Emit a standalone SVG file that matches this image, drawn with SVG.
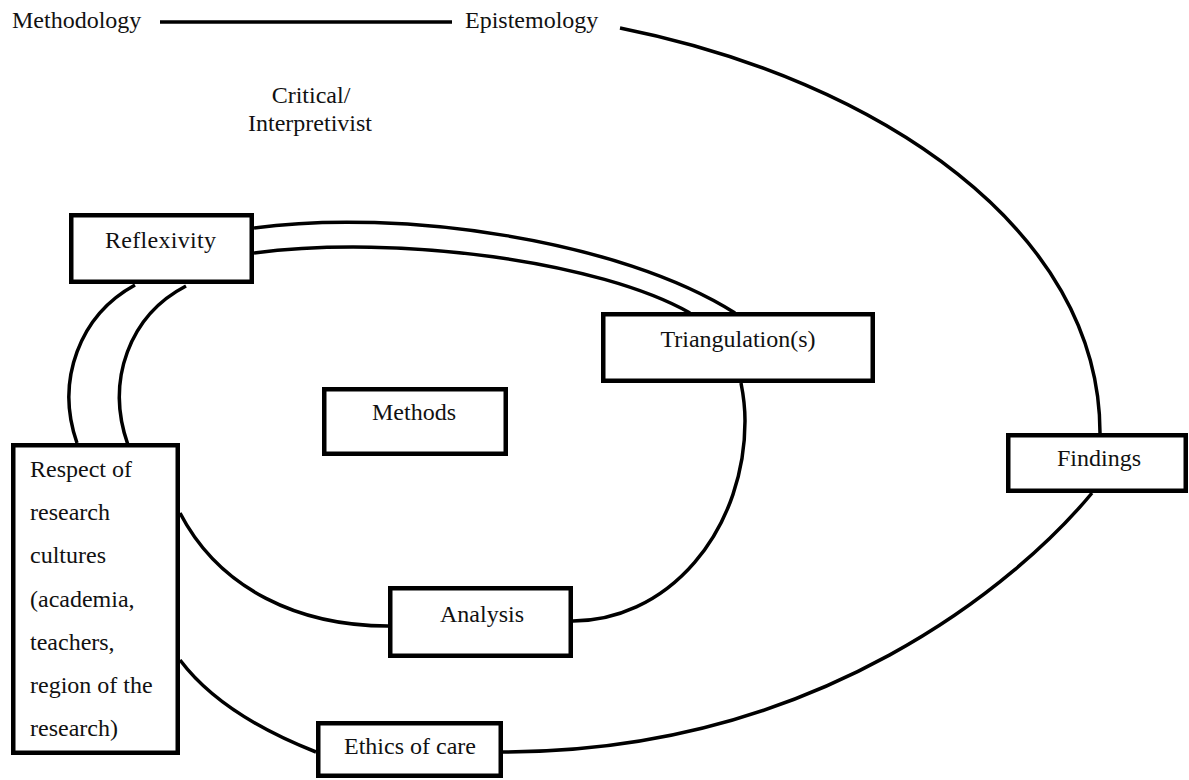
<svg xmlns="http://www.w3.org/2000/svg" width="1189" height="780" viewBox="0 0 1189 780">
  <style>
    .box { fill: #ffffff; stroke: #000000; stroke-width: 4.5; }
    .link { fill: none; stroke: #000000; stroke-width: 3.5; }
    .lbl { font-family: "Liberation Serif", "Times New Roman", serif; font-size: 24px; fill: #111111; }
    .mid { text-anchor: middle; }
  </style>
  <rect width="1189" height="780" fill="#ffffff"/>

  <!-- connectors -->
  <g id="connectors">
    <path class="link" d="M160,22 L452,22"/>
    <path class="link" d="M620,28 C880,80 1100,230 1100,433"/>
    <path class="link" d="M1092,493 C1020,580 820,752 503,752"/>
    <path class="link" d="M254,228 C400,208 620,240 735,313"/>
    <path class="link" d="M254,253 C400,234 600,262 690,313"/>
    <path class="link" d="M135,285 C80,315 55,380 77,443"/>
    <path class="link" d="M186,286 C130,315 105,380 128,445"/>
    <path class="link" d="M180,513 C220,590 300,626 388,626"/>
    <path class="link" d="M573,621 A172,200 0 0 0 745,421 C745,405 743,393 741,383"/>
    <path class="link" d="M180,660 C210,700 260,730 316,752"/>
  </g>

  <!-- free-standing labels -->
  <g id="methodology">
    <text class="lbl" x="12" y="28">Methodology</text>
  </g>
  <g id="epistemology">
    <text class="lbl" x="465" y="28">Epistemology</text>
  </g>
  <g id="critical">
    <text class="lbl mid" x="311" y="103">Critical/</text>
    <text class="lbl mid" x="310" y="131">Interpretivist</text>
  </g>

  <!-- boxed nodes -->
  <g id="reflexivity">
    <rect class="box" x="71.25" y="215.25" width="180.5" height="66.5"/>
    <text class="lbl" x="105" y="248" textLength="111">Reflexivity</text>
  </g>
  <g id="triangulation">
    <rect class="box" x="603.25" y="314.25" width="269.5" height="66.5"/>
    <text class="lbl mid" x="738" y="347">Triangulation(s)</text>
  </g>
  <g id="methods">
    <rect class="box" x="324.25" y="389.25" width="181.5" height="64.5"/>
    <text class="lbl mid" x="414" y="420">Methods</text>
  </g>
  <g id="findings">
    <rect class="box" x="1008.25" y="435.25" width="177.5" height="55.5"/>
    <text class="lbl mid" x="1099" y="466">Findings</text>
  </g>
  <g id="respect">
    <rect class="box" x="13.25" y="445.25" width="164.5" height="307.5"/>
    <text class="lbl" x="30" y="477">Respect of</text>
    <text class="lbl" x="30" y="520">research</text>
    <text class="lbl" x="30" y="563">cultures</text>
    <text class="lbl" x="30" y="607">(academia,</text>
    <text class="lbl" x="30" y="650">teachers,</text>
    <text class="lbl" x="30" y="693">region of the</text>
    <text class="lbl" x="30" y="736">research)</text>
  </g>
  <g id="analysis">
    <rect class="box" x="390.25" y="588.25" width="180.5" height="67.5"/>
    <text class="lbl mid" x="482" y="622">Analysis</text>
  </g>
  <g id="ethics">
    <rect class="box" x="318.25" y="723.25" width="182.5" height="52.5"/>
    <text class="lbl mid" x="410" y="754">Ethics of care</text>
  </g>
</svg>
